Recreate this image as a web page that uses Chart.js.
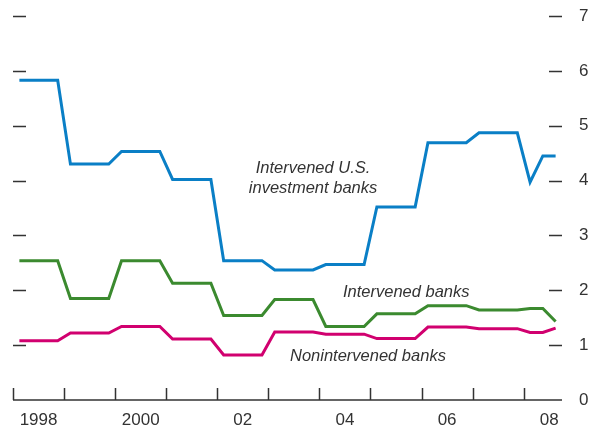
<!DOCTYPE html>
<html>
<head>
<meta charset="utf-8">
<script src="https://cdn.jsdelivr.net/npm/chart.js@4/dist/chart.umd.min.js"></script>
<style>
  html, body { margin: 0; padding: 0; background: #fff; }
  #wrap { width: 592px; height: 436px; }
</style>
</head>
<body>
<div id="wrap"><canvas id="chart"></canvas></div>
<script>
// quarterly, 1998Q1 .. 2008Q3
const quarters = [];
for (let y = 1998; y <= 2008; y++) {
    for (let q = 1; q <= 4; q++) {
        if (y === 2008 && q === 4) break;
        quarters.push(y + 'Q' + q);
    }
}
const usInvestment = [5.83, 5.83, 5.83, 5.83, 4.30, 4.30, 4.30, 4.30, 4.53, 4.53, 4.53, 4.53,
    4.02, 4.02, 4.02, 4.02, 2.54, 2.54, 2.54, 2.54, 2.37, 2.37, 2.37, 2.37,
    2.47, 2.47, 2.47, 2.47, 3.52, 3.52, 3.52, 3.52, 4.69, 4.69, 4.69, 4.69,
    4.87, 4.87, 4.87, 4.87, 3.97, 4.45, 4.45];
const intervened = [2.54, 2.54, 2.54, 2.54, 1.85, 1.85, 1.85, 1.85, 2.54, 2.54, 2.54, 2.54,
    2.13, 2.13, 2.13, 2.13, 1.54, 1.54, 1.54, 1.54, 1.83, 1.83, 1.83, 1.83,
    1.34, 1.34, 1.34, 1.34, 1.57, 1.57, 1.57, 1.57, 1.72, 1.72, 1.72, 1.72,
    1.64, 1.64, 1.64, 1.64, 1.67, 1.67, 1.43];
const nonintervened = [1.08, 1.08, 1.08, 1.08, 1.22, 1.22, 1.22, 1.22, 1.34, 1.34, 1.34, 1.34,
    1.11, 1.11, 1.11, 1.11, 0.82, 0.82, 0.82, 0.82, 1.24, 1.24, 1.24, 1.24,
    1.20, 1.20, 1.20, 1.20, 1.12, 1.12, 1.12, 1.12, 1.33, 1.33, 1.33, 1.33,
    1.30, 1.30, 1.30, 1.30, 1.23, 1.23, 1.31];
const yearLabels = ['1998', '2000', '02', '04', '06', '08'];
const yTicks = [0, 1, 2, 3, 4, 5, 6, 7];

const FONT = "'Liberation Sans', Arial, sans-serif";
const INK = '#333333';

function toPoints(arr) {
    return arr.map((v, i) => ({ x: i + 0.5, y: v }));
}

// labels placed in data coordinates
const notes = [
    { lines: ['Intervened U.S.', 'investment banks'], x: 23.5, y: 4.14 },
    { lines: ['Intervened banks'], x: 30.8, y: 1.88 },
    { lines: ['Nonintervened banks'], x: 27.8, y: 0.71 }
];

const framePlugin = {
    id: 'frame',
    afterDatasetsDraw(chart) {
        const { ctx, chartArea: a, scales } = chart;
        ctx.save();
        ctx.strokeStyle = INK;
        ctx.lineWidth = 1.5;
        ctx.beginPath();
        // x axis line
        ctx.moveTo(a.left, a.bottom);
        ctx.lineTo(a.right, a.bottom);
        // year boundary ticks
        for (let v = 0; v < quarters.length; v += 4) {
            const px = Math.round(scales.x.getPixelForValue(v)) + 0.5;
            ctx.moveTo(px, a.bottom);
            ctx.lineTo(px, a.bottom - 12);
        }
        // y dashes at both sides
        yTicks.forEach(t => {
            if (t === 0) return;
            const py = Math.round(scales.y.getPixelForValue(t)) + 0.5;
            ctx.moveTo(a.left, py);
            ctx.lineTo(a.left + 13, py);
            ctx.moveTo(a.right - 13, py);
            ctx.lineTo(a.right, py);
        });
        ctx.stroke();

        ctx.fillStyle = INK;
        ctx.font = 'italic 16.5px ' + FONT;
        ctx.textAlign = 'center';
        ctx.textBaseline = 'alphabetic';
        notes.forEach(n => {
            const px = scales.x.getPixelForValue(n.x);
            const py = scales.y.getPixelForValue(n.y);
            n.lines.forEach((line, k) => ctx.fillText(line, px, py + k * 20));
        });
        ctx.restore();
    }
};

new Chart(document.getElementById('chart'), {
    type: 'line',
    data: {
        datasets: [
            { label: 'Intervened U.S. investment banks', data: toPoints(usInvestment), borderColor: '#0a7fc6' },
            { label: 'Intervened banks', data: toPoints(intervened), borderColor: '#3b8a2f' },
            { label: 'Nonintervened banks', data: toPoints(nonintervened), borderColor: '#d1006f' }
        ]
    },
    options: {
        responsive: true,
        maintainAspectRatio: false,
        animation: false,
        layout: { padding: { top: 16, left: 13, right: 0, bottom: 0 } },
        elements: {
            line: { borderWidth: 3, tension: 0, borderCapStyle: 'butt', borderJoinStyle: 'miter' },
            point: { radius: 0, hoverRadius: 0 }
        },
        plugins: { legend: { display: false }, tooltip: { enabled: false } },
        scales: {
            x: {
                type: 'linear',
                min: 0,
                max: quarters.length,
                grid: { display: false, drawTicks: false },
                border: { display: false },
                afterBuildTicks: axis => {
                    axis.ticks = yearLabels.map((_, k) => ({ value: 2 + k * 8 }));
                },
                afterFit: axis => {
                    axis.height = 36;
                    axis.paddingLeft = 0;
                    axis.paddingRight = 0;
                },
                ticks: {
                    autoSkip: false,
                    maxRotation: 0,
                    padding: 10,
                    color: INK,
                    font: { family: FONT, size: 17 },
                    callback: value => yearLabels[(value - 2) / 8]
                }
            },
            y: {
                position: 'right',
                min: 0,
                max: 7,
                grid: { display: false, drawTicks: false },
                border: { display: false },
                afterBuildTicks: axis => {
                    axis.ticks = yTicks.map(v => ({ value: v }));
                },
                afterFit: axis => {
                    axis.width = 30;
                    axis.paddingTop = 0;
                    axis.paddingBottom = 0;
                },
                ticks: {
                    padding: 17,
                    color: INK,
                    font: { family: FONT, size: 17 }
                }
            }
        }
    },
    plugins: [framePlugin]
});
</script>
</body>
</html>
